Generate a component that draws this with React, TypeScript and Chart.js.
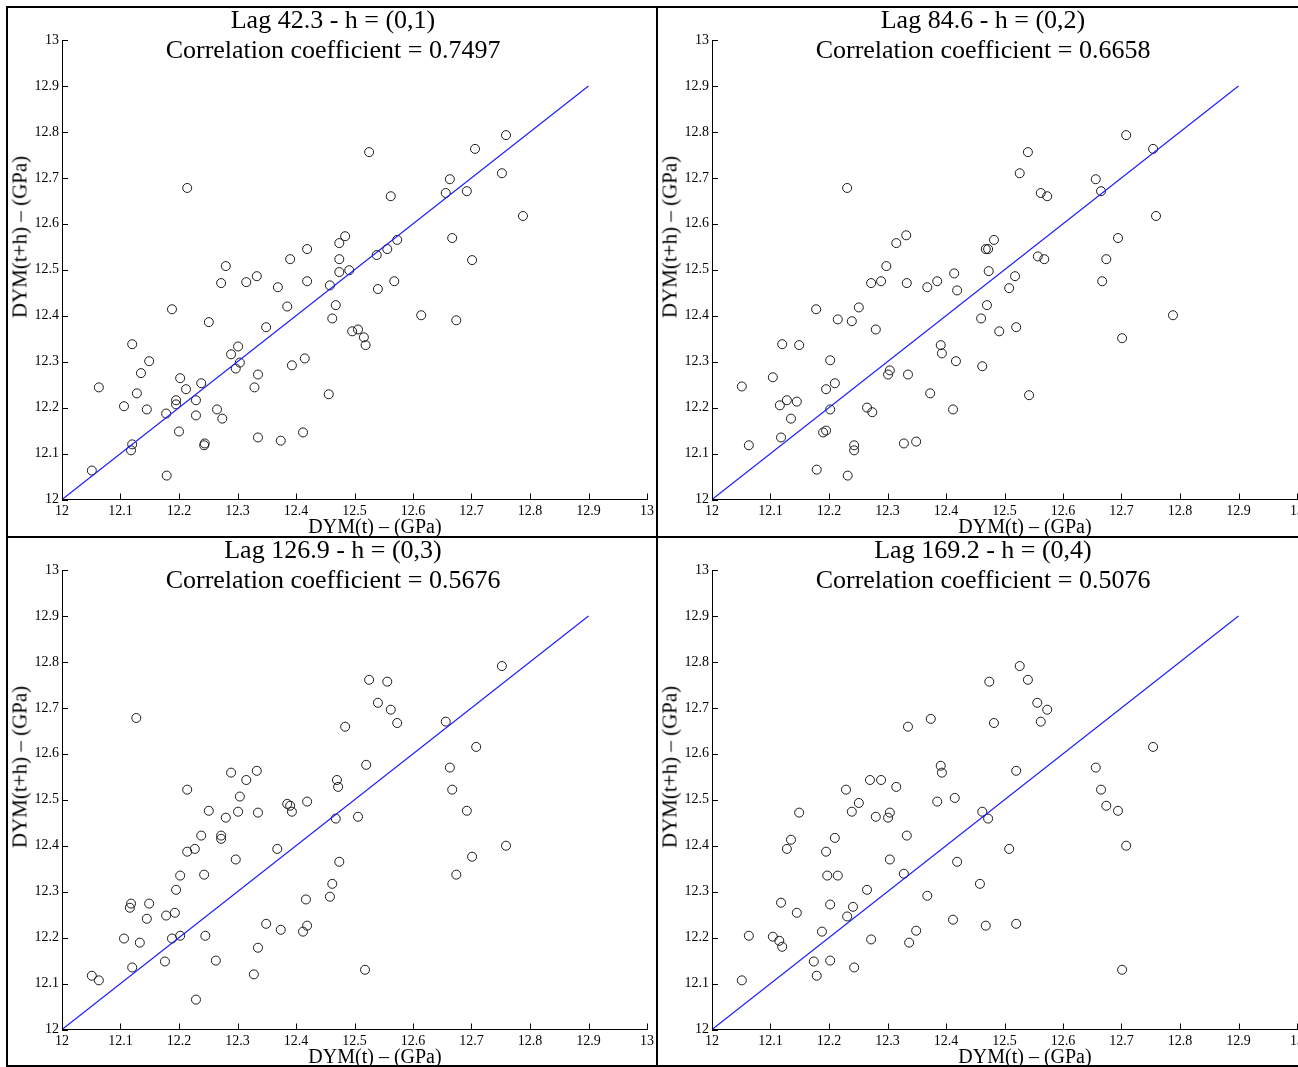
import React, { useEffect, useRef } from "react";
import { Chart, registerables } from "chart.js";

Chart.register(...registerables);

// ---------- data ----------
const TICK_LABELS = ["12", "12.1", "12.2", "12.3", "12.4", "12.5", "12.6", "12.7", "12.8", "12.9", "13"];
const FIT_X = [12, 12.9];
const FIT_Y = [12, 12.9];

const LAG_TITLES = ["Lag 42.3 - h = (0,1)", "Lag 84.6 - h = (0,2)", "Lag 126.9 - h = (0,3)", "Lag 169.2 - h = (0,4)"];
const CORR_VALUES = ["0.7497", "0.6658", "0.5676", "0.5076"];
const X_TITLE = "DYM(t) \u2013 (GPa)";
const Y_TITLE = "DYM(t+h) \u2013 (GPa)";

const P1_X = [12.051, 12.063, 12.106, 12.118, 12.12, 12.12, 12.128, 12.135, 12.145, 12.149, 12.178, 12.179, 12.188, 12.195, 12.195, 12.2, 12.202, 12.212, 12.214, 12.229, 12.229, 12.238, 12.244, 12.243, 12.251, 12.265, 12.272, 12.274, 12.28, 12.289, 12.297, 12.301, 12.304, 12.315, 12.329, 12.335, 12.333, 12.335, 12.349, 12.369, 12.374, 12.385, 12.39, 12.393, 12.412, 12.415, 12.419, 12.419, 12.456, 12.458, 12.462, 12.468, 12.474, 12.474, 12.474, 12.484, 12.491, 12.496, 12.506, 12.516, 12.519, 12.525, 12.538, 12.54, 12.556, 12.562, 12.568, 12.573, 12.614, 12.656, 12.663, 12.667, 12.674, 12.692, 12.701, 12.706, 12.752, 12.759, 12.788];
const P1_Y = [12.063, 12.244, 12.203, 12.107, 12.338, 12.12, 12.231, 12.275, 12.196, 12.301, 12.187, 12.052, 12.414, 12.207, 12.216, 12.148, 12.264, 12.24, 12.678, 12.216, 12.183, 12.253, 12.122, 12.118, 12.386, 12.196, 12.471, 12.176, 12.508, 12.316, 12.285, 12.333, 12.298, 12.473, 12.244, 12.272, 12.486, 12.135, 12.375, 12.462, 12.128, 12.42, 12.523, 12.292, 12.146, 12.307, 12.545, 12.475, 12.229, 12.466, 12.394, 12.423, 12.558, 12.523, 12.495, 12.573, 12.499, 12.366, 12.37, 12.353, 12.336, 12.756, 12.532, 12.458, 12.545, 12.66, 12.475, 12.565, 12.401, 12.667, 12.697, 12.569, 12.39, 12.671, 12.521, 12.763, 12.71, 12.793, 12.617];

const P2_X = [12.051, 12.063, 12.104, 12.116, 12.12, 12.118, 12.128, 12.135, 12.145, 12.149, 12.178, 12.179, 12.19, 12.195, 12.195, 12.202, 12.202, 12.21, 12.215, 12.231, 12.232, 12.239, 12.243, 12.243, 12.251, 12.265, 12.272, 12.274, 12.28, 12.289, 12.298, 12.301, 12.304, 12.315, 12.328, 12.332, 12.333, 12.335, 12.349, 12.368, 12.373, 12.385, 12.391, 12.393, 12.414, 12.412, 12.417, 12.419, 12.46, 12.462, 12.468, 12.472, 12.47, 12.473, 12.482, 12.491, 12.508, 12.518, 12.52, 12.526, 12.54, 12.542, 12.557, 12.562, 12.568, 12.573, 12.656, 12.665, 12.667, 12.674, 12.694, 12.701, 12.708, 12.754, 12.759, 12.788];
const P2_Y = [12.246, 12.118, 12.266, 12.205, 12.338, 12.135, 12.216, 12.176, 12.213, 12.336, 12.414, 12.065, 12.146, 12.15, 12.24, 12.303, 12.196, 12.253, 12.392, 12.678, 12.052, 12.388, 12.118, 12.107, 12.418, 12.2, 12.471, 12.19, 12.37, 12.475, 12.508, 12.272, 12.281, 12.558, 12.122, 12.575, 12.471, 12.272, 12.126, 12.462, 12.231, 12.475, 12.336, 12.318, 12.492, 12.196, 12.301, 12.455, 12.394, 12.29, 12.545, 12.545, 12.423, 12.497, 12.565, 12.366, 12.46, 12.486, 12.375, 12.71, 12.756, 12.227, 12.529, 12.667, 12.523, 12.66, 12.697, 12.671, 12.475, 12.523, 12.569, 12.351, 12.793, 12.763, 12.617, 12.401];

const P3_X = [12.051, 12.063, 12.106, 12.116, 12.118, 12.12, 12.127, 12.133, 12.145, 12.149, 12.176, 12.178, 12.188, 12.193, 12.195, 12.202, 12.202, 12.214, 12.214, 12.227, 12.229, 12.238, 12.243, 12.245, 12.251, 12.263, 12.272, 12.272, 12.28, 12.289, 12.297, 12.301, 12.304, 12.315, 12.328, 12.333, 12.335, 12.335, 12.349, 12.368, 12.374, 12.385, 12.39, 12.393, 12.412, 12.417, 12.419, 12.419, 12.458, 12.462, 12.468, 12.47, 12.472, 12.474, 12.484, 12.506, 12.518, 12.52, 12.525, 12.54, 12.556, 12.562, 12.573, 12.656, 12.663, 12.667, 12.674, 12.692, 12.701, 12.708, 12.752, 12.759];
const P3_Y = [12.117, 12.107, 12.198, 12.265, 12.274, 12.135, 12.678, 12.189, 12.241, 12.274, 12.148, 12.248, 12.198, 12.254, 12.304, 12.335, 12.204, 12.387, 12.522, 12.393, 12.065, 12.422, 12.337, 12.204, 12.476, 12.15, 12.422, 12.415, 12.461, 12.559, 12.37, 12.474, 12.507, 12.543, 12.12, 12.563, 12.178, 12.472, 12.23, 12.393, 12.217, 12.491, 12.487, 12.474, 12.213, 12.283, 12.496, 12.226, 12.289, 12.317, 12.459, 12.543, 12.528, 12.365, 12.659, 12.463, 12.13, 12.576, 12.761, 12.711, 12.757, 12.696, 12.667, 12.67, 12.57, 12.522, 12.337, 12.476, 12.376, 12.615, 12.791, 12.4];

const P4_X = [12.051, 12.063, 12.104, 12.115, 12.118, 12.12, 12.128, 12.135, 12.145, 12.149, 12.174, 12.179, 12.188, 12.195, 12.197, 12.202, 12.202, 12.21, 12.215, 12.229, 12.231, 12.239, 12.241, 12.243, 12.251, 12.265, 12.27, 12.272, 12.28, 12.289, 12.301, 12.304, 12.304, 12.315, 12.328, 12.333, 12.335, 12.337, 12.349, 12.368, 12.374, 12.385, 12.391, 12.393, 12.412, 12.415, 12.419, 12.458, 12.462, 12.468, 12.472, 12.474, 12.482, 12.508, 12.52, 12.52, 12.526, 12.54, 12.556, 12.562, 12.573, 12.656, 12.665, 12.674, 12.694, 12.701, 12.708, 12.754];
const P4_Y = [12.107, 12.204, 12.202, 12.193, 12.276, 12.18, 12.393, 12.413, 12.254, 12.472, 12.148, 12.117, 12.213, 12.387, 12.335, 12.15, 12.272, 12.417, 12.335, 12.522, 12.246, 12.474, 12.267, 12.135, 12.493, 12.304, 12.543, 12.196, 12.463, 12.543, 12.461, 12.37, 12.472, 12.528, 12.339, 12.422, 12.659, 12.189, 12.215, 12.291, 12.676, 12.496, 12.574, 12.559, 12.239, 12.504, 12.365, 12.317, 12.474, 12.226, 12.459, 12.757, 12.667, 12.393, 12.563, 12.23, 12.791, 12.761, 12.711, 12.67, 12.696, 12.57, 12.522, 12.487, 12.476, 12.13, 12.4, 12.615];

const PANEL_XS = [P1_X, P2_X, P3_X, P4_X];
const PANEL_YS = [P1_Y, P2_Y, P3_Y, P4_Y];

// ---------- layout ----------
const FONT = "'Liberation Serif', 'Times New Roman', serif";
const PANEL_ORIGINS = [
  { left: 8, top: 8 },
  { left: 658, top: 8 },
  { left: 8, top: 538 },
  { left: 658, top: 538 },
];
const CANVAS_W = 660;
const CANVAS_H = 528;
const PLOT_LEFT = 54;
const PLOT_TOP = 32;
const PLOT_RIGHT = 639;
const PLOT_BOTTOM = 491.5;

const innerTicks = {
  id: "innerTicks",
  afterDraw(chart: any) {
    const { ctx, chartArea, scales } = chart;
    const xs = scales.x;
    const ys = scales.y;
    ctx.save();
    ctx.strokeStyle = "#000";
    ctx.lineWidth = 1;
    ctx.beginPath();
    xs.ticks.forEach((t: any) => {
      const px = Math.round(xs.getPixelForValue(t.value)) + 0.5;
      ctx.moveTo(px, chartArea.bottom);
      ctx.lineTo(px, chartArea.bottom - 6);
    });
    ys.ticks.forEach((t: any) => {
      const py = Math.round(ys.getPixelForValue(t.value)) + 0.5;
      ctx.moveTo(chartArea.left, py);
      ctx.lineTo(chartArea.left + 6, py);
    });
    ctx.stroke();
    ctx.restore();
  },
};

function Panel({ idx }: { idx: number }) {
  const ref = useRef<HTMLCanvasElement | null>(null);
  const origin = PANEL_ORIGINS[idx];

  useEffect(() => {
    if (!ref.current) return;
    const xs = PANEL_XS[idx];
    const ys = PANEL_YS[idx];
    const tickFont = { family: FONT, size: 14 };
    const chart = new Chart(ref.current, {
      type: "scatter",
      data: {
        datasets: [
          {
            data: FIT_X.map((x, i) => ({ x, y: FIT_Y[i] })),
            showLine: true,
            borderColor: "#1a1aff",
            borderWidth: 1.1,
            pointRadius: 0,
            fill: false,
          } as any,
          {
            data: xs.map((x, i) => ({ x, y: ys[i] })),
            showLine: false,
            pointRadius: 4.5,
            pointBorderColor: "#1a1a1a",
            pointBackgroundColor: "rgba(0,0,0,0)",
            pointBorderWidth: 1,
          } as any,
        ],
      },
      options: {
        animation: false,
        responsive: false,
        maintainAspectRatio: false,
        devicePixelRatio: 1,
        layout: {
          padding: { left: 0, top: PLOT_TOP, right: CANVAS_W - PLOT_RIGHT, bottom: 0 },
        },
        plugins: {
          legend: { display: false },
          tooltip: { enabled: false },
          title: { display: false },
        },
        scales: {
          x: {
            type: "linear",
            min: 12,
            max: 13,
            grid: { display: false, drawTicks: false, tickLength: 0 },
            border: { display: true, color: "#000", width: 1 },
            ticks: {
              stepSize: 0.1,
              autoSkip: false,
              maxRotation: 0,
              minRotation: 0,
              padding: 3,
              color: "#000",
              font: tickFont,
              callback: (_v: any, i: number) => TICK_LABELS[i],
            },
            afterFit: (s: any) => {
              s.height = CANVAS_H - PLOT_BOTTOM;
            },
          },
          y: {
            type: "linear",
            min: 12,
            max: 13,
            grid: { display: false, drawTicks: false, tickLength: 0 },
            border: { display: true, color: "#000", width: 1 },
            ticks: {
              stepSize: 0.1,
              autoSkip: false,
              padding: 3,
              color: "#000",
              font: tickFont,
              callback: (_v: any, i: number) => TICK_LABELS[i],
            },
            afterFit: (s: any) => {
              s.width = PLOT_LEFT;
            },
          },
        },
      } as any,
      plugins: [innerTicks],
    });
    return () => chart.destroy();
  }, [idx]);

  const textBase: React.CSSProperties = {
    position: "absolute",
    whiteSpace: "nowrap",
    fontFamily: FONT,
    color: "#000",
    lineHeight: 1,
  };

  return (
    <>
      <canvas
        ref={ref}
        width={CANVAS_W}
        height={CANVAS_H}
        style={{ position: "absolute", left: origin.left, top: origin.top, width: CANVAS_W, height: CANVAS_H }}
      />
      <div style={{ ...textBase, fontSize: 26, left: origin.left + 325, top: origin.top - 1, transform: "translateX(-50%)" }}>
        {LAG_TITLES[idx]}
      </div>
      <div style={{ ...textBase, fontSize: 26, left: origin.left + 325, top: origin.top + 29, transform: "translateX(-50%)" }}>
        {"Correlation coefficient = " + CORR_VALUES[idx]}
      </div>
      <div style={{ ...textBase, fontSize: 20, left: origin.left + 367, top: origin.top + 508, transform: "translateX(-50%)" }}>
        {X_TITLE}
      </div>
      <div
        style={{
          ...textBase,
          fontSize: 21,
          left: origin.left + 12,
          top: origin.top + 229,
          transform: "translate(-50%, -50%) rotate(-90deg)",
        }}
      >
        {Y_TITLE}
      </div>
    </>
  );
}

export default function App() {
  useEffect(() => {
    document.body.style.overflow = "hidden";
  }, []);
  const line: React.CSSProperties = { position: "absolute", background: "#000" };
  return (
    <div
      style={{
        position: "absolute",
        left: 0,
        top: 0,
        width: 1298,
        height: 1067,
        overflow: "hidden",
        background: "#fff",
      }}
    >
      {[0, 1, 2, 3].map((i) => (
        <Panel key={i} idx={i} />
      ))}
      <div style={{ ...line, left: 6, top: 6, width: 1292, height: 2 }} />
      <div style={{ ...line, left: 6, top: 6, width: 2, height: 1061 }} />
      <div style={{ ...line, left: 656, top: 6, width: 2, height: 1061 }} />
      <div style={{ ...line, left: 6, top: 536, width: 1292, height: 2 }} />
      <div style={{ ...line, left: 6, top: 1065, width: 1292, height: 2 }} />
    </div>
  );
}
